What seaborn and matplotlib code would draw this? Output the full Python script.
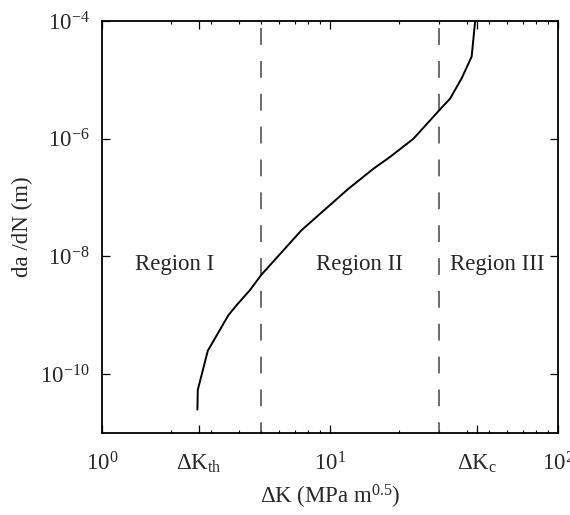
import matplotlib
matplotlib.use("Agg")
import matplotlib.pyplot as plt
import seaborn as sns
import numpy as np

# Fatigue crack growth curve (Paris-type sigmoidal curve)
delta_k = [2.62, 2.63, 2.91, 3.58, 3.90, 4.46, 5.0, 7.5, 12.0, 15.5, 18.3,
           23.2, 30.9, 33.6, 37.8, 41.8, 43.3]
da_dn = [2.5e-11, 5.4e-11, 2.5e-10, 1.0e-9, 1.5e-9, 2.7e-9, 4.9e-9, 2.8e-8,
         1.4e-7, 3.1e-7, 4.9e-7, 1.0e-6, 3.4e-6, 4.8e-6, 1.07e-5, 2.5e-5, 1.0e-4]

# Region boundaries and labels
region_bounds = [5, 30]
region_names = ["Region I", "Region II", "Region III"]
region_x = [2.09, 13.5, 54]
region_y = 5.9e-9

# Axis ticks
x_major = [1, 2.65, 10, 44, 100]
x_major_labels = [r"$10^{0}$", r"$\Delta\mathrm{K}_{\mathrm{th}}$", r"$10^{1}$",
                  r"$\Delta\mathrm{K}_{\mathrm{c}}$", r"$10^{2}$"]
y_major = [1e-10, 1e-8, 1e-6, 1e-4]
y_major_labels = [r"$10^{-10}$", r"$10^{-8}$", r"$10^{-6}$", r"$10^{-4}$"]

sns.set_theme(style="ticks")
plt.rcParams["font.family"] = ["Liberation Serif", "DejaVu Serif"]
plt.rcParams["mathtext.fontset"] = "custom"
plt.rcParams["mathtext.rm"] = "Liberation Serif"
plt.rcParams["mathtext.it"] = "Liberation Serif:italic"
plt.rcParams["mathtext.bf"] = "Liberation Serif:bold"

FS = 16.5

fig = plt.figure(figsize=(5.7, 5.15), dpi=100)
ax = fig.add_axes([0.179, 0.1592, 0.800, 0.7998])

for xb in region_bounds:
    ax.axvline(xb, color="#444444", lw=1.1, linestyle=(4, (11, 10.5)), zorder=1)

sns.lineplot(x=delta_k, y=da_dn, sort=False, estimator=None, color="black",
             lw=1.4, ax=ax, zorder=3)

ax.set_xscale("log")
ax.set_yscale("log")
ax.set_xlim(1, 100)
ax.set_ylim(1e-11, 1e-4)

for name, xr in zip(region_names, region_x):
    ax.text(xr, region_y, name, ha="center", va="baseline", fontsize=FS)

ax.set_xticks(x_major, labels=x_major_labels)
minor_x = [m * d for d in (1, 10) for m in range(2, 10)]
ax.set_xticks(minor_x, minor=True)
ax.set_xticklabels([], minor=True)
ax.set_yticks(y_major, labels=y_major_labels)
ax.set_yticks([], minor=True)

ax.tick_params(axis="both", which="major", direction="in", length=6, width=0.9,
               top=True, right=True, labelsize=FS, color="black")
ax.tick_params(axis="x", which="minor", direction="in", length=2.5, width=0.8,
               top=True, color="black")
ax.tick_params(axis="x", which="major", pad=14)
ax.tick_params(axis="y", which="major", pad=9)

for sp in ax.spines.values():
    sp.set_linewidth(1.3)
    sp.set_color("black")

ax.set_xlabel(r"$\Delta\mathrm{K\ (MPa\ m^{0.5})}$", fontsize=FS, labelpad=5)
ax.set_ylabel("da /dN (m)", fontsize=FS, labelpad=5)

fig.savefig("out.png", dpi=100)
